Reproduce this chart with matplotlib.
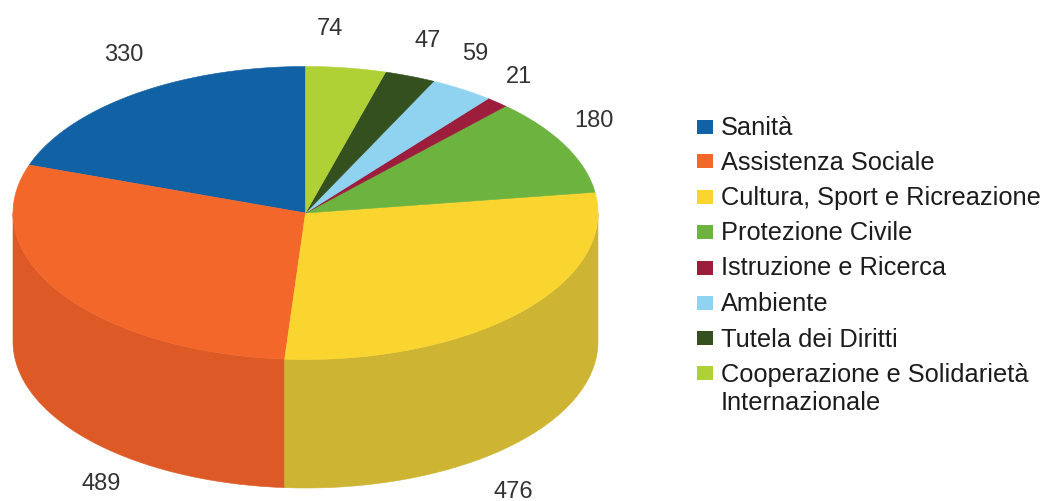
import numpy as np
import matplotlib
matplotlib.use("Agg")
import matplotlib.pyplot as plt
from matplotlib.patches import Polygon, Rectangle

categories = ["Sanità", "Assistenza Sociale", "Cultura, Sport e Ricreazione", "Protezione Civile",
              "Istruzione e Ricerca", "Ambiente", "Tutela dei Diritti", "Cooperazione e Solidarietà\nInternazionale"]
values = [330, 489, 476, 180, 21, 59, 47, 74]
top_colors = ["#1161a5", "#f4672a", "#fbd52f", "#6cb33f", "#9c1d3c", "#8fd3f0", "#35501f", "#afd135"]
side_colors = ["#0e4f88", "#dd5a26", "#cdb433", "#5b9a37", "#7f1830", "#78b5cf", "#2a4019", "#95b22e"]
label_xy = [(124, 55), (101, 484), (513, 492), (594, 121), (519, 77), (475, 54), (428, 41), (330, 29)]
swatch_y = [127.5, 162, 198, 233, 269, 304, 339, 374]
text_y = [128, 163, 198, 233, 268, 304, 340, 375]

plt.rcParams["font.family"] = ["Liberation Sans", "DejaVu Sans"]
fig = plt.figure(figsize=(10.43, 5.02), dpi=100, facecolor="white")
ax = fig.add_axes([0, 0, 1, 1])
ax.set_xlim(0, 1043); ax.set_ylim(502, 0); ax.axis("off")

cx, cy, rx, ry, depth = 305.5, 214, 292.5, 146.5, 128.5

fracs = np.array(values) / sum(values)
ends = np.cumsum(fracs) * 2 * np.pi
starts = ends - fracs * 2 * np.pi

def rim(a0, a1, dz=0):
    t = np.linspace(a0, a1, 200)
    return cx - rx * np.sin(t), cy - ry * np.cos(t) + dz

# side wall
for a0, a1, c in zip(starts, ends, side_colors):
    lo, hi = max(a0, np.pi / 2), min(a1, 3 * np.pi / 2)
    if hi > lo:
        x, y = rim(lo, hi)
        xb, yb = rim(hi, lo, depth)
        ax.add_patch(Polygon(np.c_[np.r_[x, xb], np.r_[y, yb]], closed=True, fc=c, ec=c, lw=0.4))
# top
for a0, a1, c in zip(starts, ends, top_colors):
    x, y = rim(a0, a1)
    ax.add_patch(Polygon(np.c_[np.r_[cx, x], np.r_[cy, y]], closed=True, fc=c, ec=c, lw=0.4))

for (x, y), v in zip(label_xy, values):
    ax.text(x, y, str(v), ha="center", va="center", fontsize=17, color="#333333")

for sy, ty, lab, c in zip(swatch_y, text_y, categories, top_colors):
    ax.add_patch(Rectangle((697, sy - 7), 16, 14, fc=c, ec="none"))
    first, *rest = lab.split("\n")
    ax.text(721, ty, first, ha="left", va="center", fontsize=18.3, color="#1c1c1c")
    for i, line in enumerate(rest, 1):
        ax.text(721, ty + 28 * i, line, ha="left", va="center", fontsize=18.3, color="#1c1c1c")

fig.savefig("out.png", dpi=100)
